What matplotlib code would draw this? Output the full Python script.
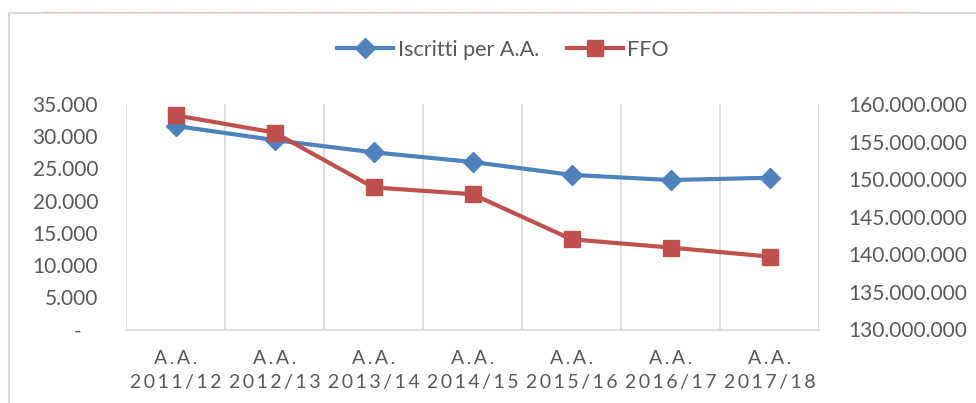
import numpy as np
import matplotlib.pyplot as plt
from matplotlib.patches import Rectangle
from matplotlib.lines import Line2D
from matplotlib.ticker import FuncFormatter

#%% dati
anni = ["2011/12", "2012/13", "2013/14", "2014/15", "2015/16", "2016/17", "2017/18"]
iscritti = [31600, 29400, 27500, 26000, 24000, 23200, 23550]
ffo = [158.5e6, 156.2e6, 148.9e6, 148.0e6, 142.0e6, 140.9e6, 139.7e6]

BLU = "#4F81BD"
ROSSO = "#C0504D"
GRIGIO = "#595959"
GRIGLIA = "#D9D9D9"

plt.rcParams['font.family'] = ['Lato', 'DejaVu Sans']

def punti(v, pos=None):
    if v == 0:
        return "-   "
    return f"{v:,.0f}".replace(",", ".")

def spaziato(s):
    return "\u2009".join(s)

#%% grafico
fig = plt.figure(figsize=(9.76, 4.03), dpi=100)
W, H = 976, 403
PX = 72 / 100  # punti per pixel

# cornice e riga tratteggiata in alto
fig.add_artist(Rectangle((9 / W, -0.1), 1.2, 1 - 13 / H + 0.1, transform=fig.transFigure,
                         fill=False, edgecolor=GRIGLIA, lw=1.5))
fig.add_artist(Line2D([42 / W, 918 / W], [1 - 11.5 / H] * 2, transform=fig.transFigure,
                      color="#E8B8A8", lw=0.8, ls=(0, (1, 1))))

ax = fig.add_axes([126 / W, 1 - 329.5 / H, (819 - 126) / W, (329.5 - 104) / H])
ax2 = ax.twinx()

x = np.arange(len(anni))
l1, = ax.plot(x, iscritti, color=BLU, lw=3, marker="D", ms=10, label="Iscritti per A.A.")
l2, = ax2.plot(x, ffo, color=ROSSO, lw=3, marker="s", ms=12, label="FFO")

ax.set_xlim(-0.5, len(anni) - 0.5)
ax.set_ylim(0, 35000)
ax.set_yticks(np.arange(0, 35001, 5000))
ax.yaxis.set_major_formatter(FuncFormatter(punti))
ax2.set_ylim(130e6, 160e6)
ax2.set_yticks(np.arange(130e6, 160e6 + 1, 5e6))
ax2.yaxis.set_major_formatter(FuncFormatter(punti))

ax.set_xticks(x)
ax.set_xticklabels([spaziato("A.A.") + "\n" + spaziato(a) for a in anni], linespacing=1.55)
for b in np.arange(-0.5, len(anni), 1.0):
    ax.axvline(b, color=GRIGLIA, lw=1.2, zorder=0)

for a in (ax, ax2):
    for s in a.spines.values():
        s.set_visible(False)
    a.tick_params(length=0, colors=GRIGIO, labelsize=15)
ax.spines["bottom"].set_visible(True)
ax.spines["bottom"].set_color(GRIGLIA)
ax.spines["bottom"].set_linewidth(1.2)
ax.tick_params(axis="y", pad=28 * PX)
ax2.tick_params(axis="y", pad=29 * PX)
ax.tick_params(axis="x", pad=20 * PX, labelsize=14)

fig.legend(handles=[l1, l2], loc="center", bbox_to_anchor=(503 / W, 1 - 50 / H), ncol=2,
           frameon=False, fontsize=15.5, labelcolor=GRIGIO, handlelength=2.6,
           handletextpad=0.2, columnspacing=1.3)

fig.savefig("out.png", dpi=100)
